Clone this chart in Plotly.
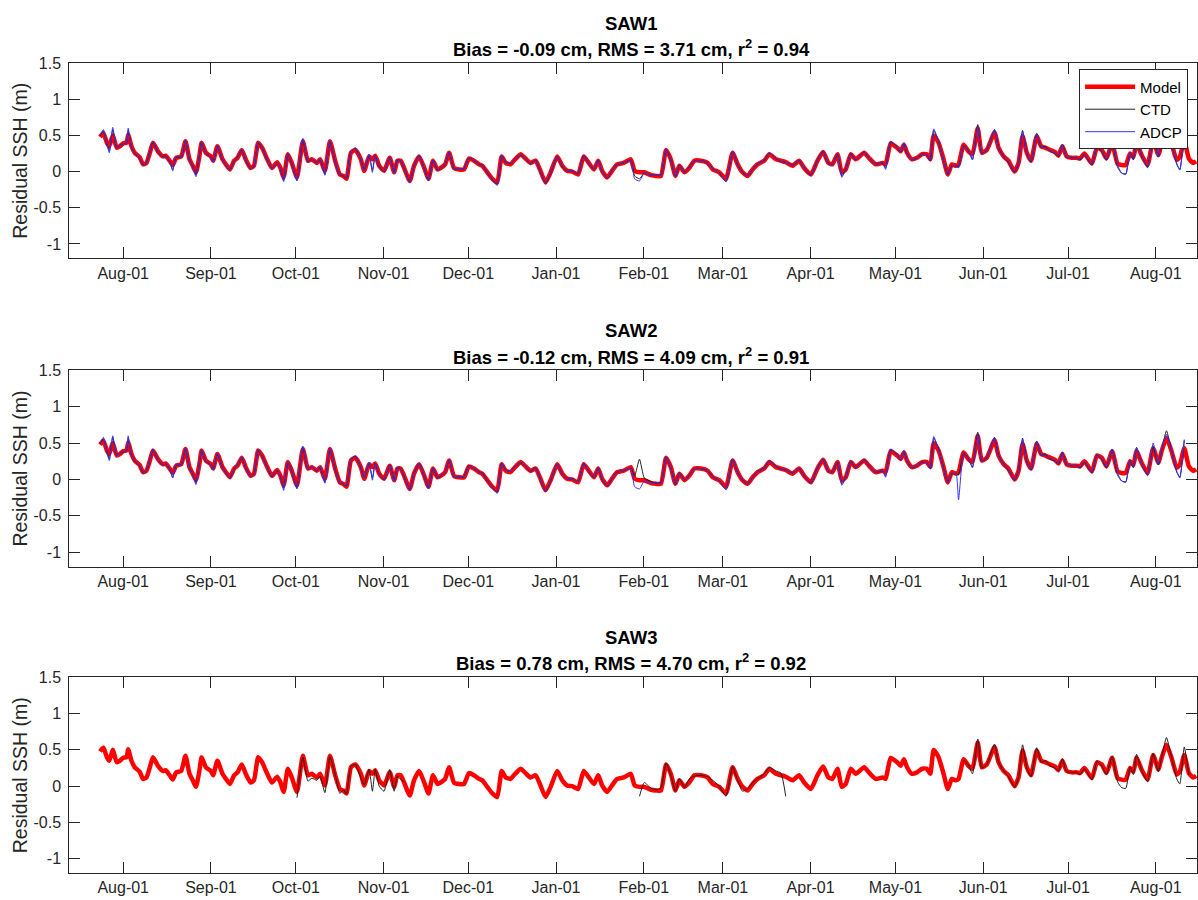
import plotly.graph_objects as go

# ---------------------------------------------------------------------------
# Residual sea-surface height at the SAW moorings (m)
# ---------------------------------------------------------------------------
dates = [
    # Jul 2017
    "2017-07-23 19:00", "2017-07-25 00:00", "2017-07-26 05:00", "2017-07-27 02:00", "2017-07-28 07:00",
    "2017-07-29 17:00", "2017-07-30 19:00",
    # Aug 2017
    "2017-08-01 00:00", "2017-08-02 05:00", "2017-08-02 18:00", "2017-08-03 22:00", "2017-08-05 02:00",
    "2017-08-06 19:00", "2017-08-08 00:00", "2017-08-09 05:00", "2017-08-10 10:00", "2017-08-11 12:00",
    "2017-08-13 07:00", "2017-08-15 00:00", "2017-08-16 00:00", "2017-08-17 10:00", "2017-08-18 12:00",
    "2017-08-19 17:00", "2017-08-21 12:00", "2017-08-23 00:00", "2017-08-24 10:00", "2017-08-25 14:00",
    "2017-08-26 17:00", "2017-08-27 22:00", "2017-08-28 17:00", "2017-08-30 05:00",
    # Sep 2017
    "2017-09-01 00:00", "2017-09-01 19:00", "2017-09-03 07:00", "2017-09-05 02:00", "2017-09-06 07:00",
    "2017-09-07 17:00", "2017-09-09 05:00", "2017-09-10 10:00", "2017-09-11 22:00", "2017-09-13 07:00",
    "2017-09-15 00:00", "2017-09-16 05:00", "2017-09-17 17:00", "2017-09-19 02:00", "2017-09-20 22:00",
    "2017-09-22 14:00", "2017-09-24 10:00", "2017-09-25 14:00", "2017-09-26 17:00", "2017-09-28 05:00",
    "2017-09-29 14:00",
    # Oct 2017
    "2017-10-01 10:00", "2017-10-03 12:00", "2017-10-05 07:00", "2017-10-06 17:00", "2017-10-08 10:00",
    "2017-10-09 14:00", "2017-10-11 07:00", "2017-10-13 02:00", "2017-10-14 22:00", "2017-10-16 14:00",
    "2017-10-17 19:00", "2017-10-18 22:00", "2017-10-20 12:00", "2017-10-22 02:00", "2017-10-24 00:00",
    "2017-10-25 05:00", "2017-10-26 22:00", "2017-10-28 02:00", "2017-10-29 02:00", "2017-10-30 12:00",
    # Nov 2017
    "2017-11-01 05:00", "2017-11-03 05:00", "2017-11-04 19:00", "2017-11-05 22:00", "2017-11-07 02:00",
    "2017-11-08 07:00", "2017-11-10 07:00", "2017-11-11 19:00", "2017-11-13 14:00", "2017-11-15 10:00",
    "2017-11-16 22:00", "2017-11-18 12:00", "2017-11-20 02:00", "2017-11-21 05:00", "2017-11-22 19:00",
    "2017-11-24 05:00", "2017-11-25 22:00", "2017-11-27 17:00", "2017-11-29 12:00",
    # Dec 2017
    "2017-12-01 05:00", "2017-12-03 00:00", "2017-12-04 19:00", "2017-12-05 22:00", "2017-12-07 17:00",
    "2017-12-09 12:00", "2017-12-11 05:00", "2017-12-12 19:00", "2017-12-14 05:00", "2017-12-15 22:00",
    "2017-12-17 02:00", "2017-12-19 12:00", "2017-12-21 05:00", "2017-12-23 00:00", "2017-12-24 19:00",
    "2017-12-26 07:00", "2017-12-28 07:00", "2017-12-30 02:00",
    # Jan 2018
    "2018-01-01 10:00", "2018-01-03 05:00", "2018-01-04 22:00", "2018-01-06 17:00", "2018-01-08 19:00",
    "2018-01-10 19:00", "2018-01-12 14:00", "2018-01-14 10:00", "2018-01-15 22:00", "2018-01-17 07:00",
    "2018-01-19 02:00", "2018-01-20 19:00", "2018-01-22 14:00", "2018-01-24 22:00", "2018-01-27 10:00",
    "2018-01-28 19:00", "2018-01-30 12:00",
    # Feb 2018
    "2018-02-01 05:00", "2018-02-03 14:00", "2018-02-05 10:00", "2018-02-07 02:00", "2018-02-08 22:00",
    "2018-02-10 14:00", "2018-02-12 05:00", "2018-02-13 14:00", "2018-02-15 10:00", "2018-02-17 02:00",
    "2018-02-18 22:00", "2018-02-21 05:00", "2018-02-23 14:00", "2018-02-25 10:00", "2018-02-27 17:00",
    # Mar 2018
    "2018-03-02 02:00", "2018-03-04 10:00", "2018-03-06 05:00", "2018-03-07 22:00", "2018-03-09 17:00",
    "2018-03-11 12:00", "2018-03-13 05:00", "2018-03-15 14:00", "2018-03-17 10:00", "2018-03-19 17:00",
    "2018-03-21 12:00", "2018-03-23 05:00", "2018-03-25 14:00", "2018-03-27 22:00", "2018-03-29 17:00",
    # Apr 2018
    "2018-04-01 02:00", "2018-04-03 10:00", "2018-04-05 10:00", "2018-04-07 07:00", "2018-04-08 17:00",
    "2018-04-10 12:00", "2018-04-12 00:00", "2018-04-13 10:00", "2018-04-15 05:00", "2018-04-16 22:00",
    "2018-04-19 22:00", "2018-04-21 14:00", "2018-04-24 00:00", "2018-04-26 10:00", "2018-04-27 12:00",
    "2018-04-29 07:00",
    # May 2018
    "2018-05-01 14:00", "2018-05-02 19:00", "2018-05-04 00:00", "2018-05-05 02:00", "2018-05-06 19:00",
    "2018-05-08 14:00", "2018-05-10 10:00", "2018-05-12 02:00", "2018-05-13 07:00", "2018-05-14 12:00",
    "2018-05-16 05:00", "2018-05-18 00:00", "2018-05-19 12:00", "2018-05-20 22:00", "2018-05-22 10:00",
    "2018-05-23 07:00", "2018-05-25 02:00", "2018-05-26 19:00", "2018-05-28 05:00", "2018-05-30 02:00",
    "2018-05-31 12:00",
    # Jun 2018
    "2018-06-02 07:00", "2018-06-05 00:00", "2018-06-06 10:00", "2018-06-08 05:00", "2018-06-09 22:00",
    "2018-06-12 02:00", "2018-06-13 12:00", "2018-06-14 22:00", "2018-06-16 10:00", "2018-06-17 22:00",
    "2018-06-19 22:00", "2018-06-21 12:00", "2018-06-22 22:00", "2018-06-24 14:00", "2018-06-26 10:00",
    "2018-06-27 14:00", "2018-06-29 00:00", "2018-06-30 12:00",
    # Jul 2018
    "2018-07-02 07:00", "2018-07-04 02:00", "2018-07-05 05:00", "2018-07-06 19:00", "2018-07-09 10:00",
    "2018-07-11 05:00", "2018-07-12 22:00", "2018-07-14 14:00", "2018-07-16 14:00", "2018-07-18 12:00",
    "2018-07-19 22:00", "2018-07-21 10:00", "2018-07-22 22:00", "2018-07-24 02:00", "2018-07-25 05:00",
    "2018-07-27 00:00", "2018-07-29 02:00", "2018-07-31 02:00",
    # Aug 2018
    "2018-08-01 22:00", "2018-08-03 02:00", "2018-08-04 19:00", "2018-08-06 14:00", "2018-08-08 10:00",
    "2018-08-09 12:00", "2018-08-11 02:00", "2018-08-12 17:00", "2018-08-14 05:00", "2018-08-15 07:00",
]

# Model residual SSH (m)
model = [
    0.48, 0.53, 0.40, 0.35, 0.50, 0.33, 0.35,
    0.39, 0.40, 0.51, 0.35, 0.26, 0.20, 0.10, 0.12, 0.26, 0.40, 0.28, 0.21, 0.22, 0.15, 0.09, 0.19,
    0.21, 0.42, 0.17, 0.08, -0.01, 0.21, 0.40, 0.26,
    0.21, 0.15, 0.35, 0.17, 0.10, 0.03, 0.15, 0.19, 0.30, 0.17, 0.05, 0.08, 0.40, 0.33, 0.17, 0.05,
    0.13, 0.05, -0.08, 0.24, 0.12,
    -0.08, 0.42, 0.15, 0.17, 0.12, 0.17, 0.01, 0.42, 0.15, -0.04, -0.06, -0.10, 0.26, 0.30, 0.17, 0.01,
    0.21, 0.17, 0.22, 0.08,
    0.01, 0.19, -0.01, 0.15, 0.15, 0.05, -0.13, 0.08, 0.21, 0.05, -0.10, 0.15, 0.03, 0.05, 0.10, 0.26,
    0.05, 0.03, 0.03,
    0.18, 0.15, 0.10, 0.08, -0.01, -0.10, -0.15, 0.21, 0.12, 0.10, 0.15, 0.24, 0.18, 0.12, 0.15, 0.03,
    -0.15, -0.01,
    0.21, 0.08, 0.01, 0.00, -0.04, 0.21, 0.12, 0.03, 0.15, 0.01, -0.08, 0.01, 0.10, 0.12, 0.17, 0.01,
    -0.01,
    -0.01, -0.05, -0.06, -0.06, 0.30, 0.17, -0.06, 0.08, -0.01, 0.05, 0.15, 0.15, 0.12, 0.03, -0.01,
    -0.10, 0.26, 0.10, -0.01, -0.06, 0.03, 0.10, 0.15, 0.24, 0.17, 0.15, 0.13, 0.08, 0.15, 0.05,
    -0.04, 0.15, 0.27, 0.12, 0.10, 0.24, -0.01, 0.03, 0.24, 0.17, 0.26, 0.19, 0.10, 0.12, 0.10, 0.39,
    0.33, 0.28, 0.37, 0.26, 0.17, 0.19, 0.24, 0.24, 0.17, 0.50, 0.40, 0.17, -0.04, 0.10, 0.08, 0.10,
    0.37, 0.28, 0.24, 0.60, 0.26,
    0.30, 0.54, 0.33, 0.21, 0.15, 0.00, 0.12, 0.49, 0.26, 0.15, 0.49, 0.35, 0.33, 0.30, 0.27, 0.22,
    0.35, 0.21,
    0.19, 0.19, 0.18, 0.25, 0.11, 0.33, 0.30, 0.18, 0.39, 0.11, 0.09, 0.09, 0.25, 0.20, 0.39, 0.23,
    0.09, 0.43,
    0.23, 0.39, 0.57, 0.39, 0.16, 0.20, 0.43, 0.18, 0.12, 0.14,
]

# ADCP-derived residual SSH at SAW1 (m)
adcp_saw1 = [
    0.50, 0.58, 0.38, 0.26, 0.61, 0.33, 0.36,
    0.38, 0.40, 0.60, 0.33, 0.25, 0.19, 0.09, 0.12, 0.27, 0.41, 0.27, 0.20, 0.22, 0.14, 0.01, 0.21,
    0.20, 0.43, 0.15, 0.07, -0.07, 0.22, 0.41, 0.25,
    0.20, 0.13, 0.36, 0.16, 0.09, 0.02, 0.14, 0.20, 0.31, 0.16, 0.04, 0.07, 0.41, 0.33, 0.16, 0.04,
    0.12, 0.04, -0.14, 0.24, 0.11,
    -0.13, 0.46, 0.14, 0.17, 0.12, 0.18, -0.05, 0.43, 0.14, -0.05, -0.06, -0.08, 0.27, 0.33, 0.16, 0.02,
    0.24, -0.01, 0.22, 0.07,
    0.00, 0.20, -0.03, 0.16, 0.15, 0.04, -0.15, 0.08, 0.22, 0.04, -0.13, 0.16, 0.02, 0.05, 0.10, 0.27,
    0.04, 0.03, 0.04,
    0.19, 0.15, 0.10, 0.09, -0.02, -0.12, -0.19, 0.22, 0.13, 0.11, 0.16, 0.23, 0.18, 0.11, 0.16, 0.02,
    -0.16, -0.02,
    0.21, 0.07, 0.01, 0.01, -0.03, 0.22, 0.11, 0.03, 0.16, 0.00, -0.09, 0.01, 0.10, 0.12, 0.16, -0.10,
    -0.13,
    -0.02, -0.05, -0.05, -0.05, 0.31, 0.16, -0.07, 0.09, -0.01, 0.06, 0.15, 0.15, 0.12, 0.04, -0.02,
    -0.14, 0.28, 0.09, -0.01, -0.06, 0.03, 0.11, 0.15, 0.26, 0.18, 0.14, 0.13, 0.09, 0.15, 0.05,
    -0.05, 0.16, 0.28, 0.11, 0.10, 0.24, -0.08, 0.03, 0.25, 0.16, 0.27, 0.19, 0.10, 0.12, 0.03, 0.42,
    0.34, 0.27, 0.40, 0.25, 0.16, 0.19, 0.24, 0.23, 0.15, 0.59, 0.42, 0.15, -0.04, 0.08, 0.08, 0.05,
    0.36, 0.29, 0.16, 0.62, 0.25,
    0.30, 0.58, 0.32, 0.20, 0.14, -0.01, 0.12, 0.55, 0.25, 0.14, 0.52, 0.34, 0.33, 0.29, 0.26, 0.22,
    0.37, 0.20,
    0.19, 0.19, 0.17, 0.24, 0.10, 0.34, 0.29, 0.17, 0.42, 0.09, -0.02, -0.04, 0.26, 0.18, 0.44, 0.22,
    0.05, 0.50,
    0.21, 0.42, 0.62, 0.40, 0.12, 0.02, 0.52, None, None, None,
]

# CTD-derived residual SSH at SAW1 (m)
ctd_saw1 = [
    0.49, 0.56, 0.39, 0.28, 0.58, 0.33, 0.36,
    0.38, 0.40, 0.57, 0.34, 0.25, 0.19, 0.09, 0.12, 0.27, 0.41, 0.27, 0.20, 0.22, 0.14, 0.03, 0.20,
    0.20, 0.42, 0.16, 0.07, -0.05, 0.22, 0.40, 0.25,
    0.20, 0.14, 0.35, 0.16, 0.09, 0.02, 0.14, 0.20, 0.30, 0.16, 0.04, 0.07, 0.40, 0.33, 0.16, 0.04,
    0.12, 0.04, -0.12, 0.24, 0.11,
    -0.12, 0.44, 0.14, 0.17, 0.12, 0.17, -0.04, 0.42, 0.14, -0.05, -0.06, -0.09, 0.27, 0.32, 0.16, 0.02,
    0.23, 0.02, 0.22, 0.07,
    0.00, 0.20, -0.02, 0.16, 0.15, 0.04, -0.14, 0.08, 0.22, 0.04, -0.12, 0.16, 0.02, 0.05, 0.10, 0.27,
    0.04, 0.03, 0.04,
    0.19, 0.15, 0.10, 0.09, -0.02, -0.11, -0.18, 0.22, 0.13, 0.11, 0.16, 0.23, 0.18, 0.11, 0.16, 0.02,
    -0.16, -0.02,
    0.21, 0.07, 0.01, 0.01, -0.03, 0.22, 0.11, 0.03, 0.16, 0.00, -0.09, 0.01, 0.10, 0.12, 0.16, -0.06,
    -0.10,
    -0.02, -0.05, -0.05, -0.05, 0.31, 0.16, -0.07, 0.09, -0.01, 0.06, 0.15, 0.15, 0.12, 0.04, -0.02,
    -0.14, 0.28, 0.09, -0.01, -0.06, 0.03, 0.11, 0.15, 0.26, 0.18, 0.14, 0.13, 0.09, 0.15, 0.05,
    -0.05, 0.16, 0.28, 0.11, 0.10, 0.24, -0.06, 0.03, 0.25, 0.16, 0.27, 0.19, 0.10, 0.12, 0.05, 0.41,
    0.34, 0.27, 0.39, 0.25, 0.16, 0.19, 0.24, 0.23, 0.15, 0.57, 0.42, 0.15, -0.04, 0.08, 0.08, 0.06,
    0.36, 0.29, 0.17, 0.65, 0.25,
    0.30, 0.58, 0.33, 0.21, 0.13, -0.01, 0.12, 0.57, 0.25, 0.13, 0.53, 0.33, 0.35, 0.28, 0.25, 0.21,
    0.38, 0.20,
    0.19, 0.19, 0.16, 0.24, 0.09, 0.34, 0.28, 0.16, 0.41, 0.06, -0.02, -0.03, 0.26, 0.16, 0.44, 0.22,
    0.06, 0.45,
    0.20, 0.40, 0.67, 0.40, 0.10, 0.03, 0.54, None, None, None,
]

# ADCP-derived residual SSH at SAW2 (m)
adcp_saw2 = [
    0.50, 0.58, 0.38, 0.26, 0.60, 0.33, 0.36,
    0.38, 0.40, 0.60, 0.33, 0.25, 0.19, 0.09, 0.12, 0.27, 0.41, 0.27, 0.20, 0.22, 0.14, 0.02, 0.21,
    0.20, 0.43, 0.15, 0.07, -0.07, 0.22, 0.41, 0.25,
    0.20, 0.13, 0.36, 0.16, 0.09, 0.02, 0.14, 0.20, 0.31, 0.16, 0.04, 0.07, 0.41, 0.33, 0.16, 0.04,
    0.12, 0.04, -0.15, 0.24, 0.11,
    -0.13, 0.46, 0.14, 0.17, 0.12, 0.18, -0.05, 0.43, 0.14, -0.05, -0.06, -0.08, 0.27, 0.33, 0.16, 0.02,
    0.24, -0.01, 0.22, 0.07,
    0.00, 0.20, -0.03, 0.16, 0.15, 0.04, -0.15, 0.08, 0.22, 0.04, -0.13, 0.16, 0.02, 0.05, 0.10, 0.27,
    0.04, 0.03, 0.04,
    0.19, 0.15, 0.10, 0.09, -0.02, -0.12, -0.19, 0.22, 0.13, 0.11, 0.16, 0.23, 0.18, 0.11, 0.16, 0.02,
    -0.16, -0.02,
    0.21, 0.07, 0.01, 0.01, -0.03, 0.22, 0.11, 0.03, 0.16, 0.00, -0.09, 0.01, 0.10, 0.12, 0.16, -0.10,
    -0.13,
    -0.02, -0.05, -0.05, -0.05, 0.31, 0.16, -0.07, 0.09, -0.01, 0.06, 0.15, 0.15, 0.12, 0.04, -0.02,
    -0.14, 0.28, 0.09, -0.01, -0.06, 0.03, 0.11, 0.15, 0.26, 0.18, 0.14, 0.13, 0.09, 0.15, 0.05,
    -0.05, 0.16, 0.28, 0.11, 0.10, 0.24, -0.08, 0.03, 0.25, 0.16, 0.27, 0.19, 0.10, 0.12, 0.03, 0.42,
    0.34, 0.27, 0.40, 0.25, 0.16, 0.19, 0.24, 0.23, 0.15, 0.59, 0.42, 0.15, -0.04, 0.08, 0.08, -0.28,
    0.36, 0.29, 0.16, 0.62, 0.25,
    0.30, 0.58, 0.32, 0.20, 0.14, -0.01, 0.12, 0.55, 0.25, 0.14, 0.52, 0.34, 0.33, 0.29, 0.26, 0.22,
    0.37, 0.20,
    0.19, 0.19, 0.17, 0.24, 0.10, 0.34, 0.29, 0.17, 0.42, 0.09, -0.02, -0.04, 0.26, 0.18, 0.44, 0.22,
    0.05, 0.50,
    0.21, 0.42, 0.62, 0.40, 0.12, 0.02, 0.55, None, None, None,
]

# CTD-derived residual SSH at SAW2 (m)
ctd_saw2 = [
    0.49, 0.56, 0.39, 0.28, 0.58, 0.33, 0.36,
    0.38, 0.40, 0.57, 0.34, 0.25, 0.19, 0.09, 0.12, 0.27, 0.41, 0.27, 0.20, 0.22, 0.14, 0.03, 0.20,
    0.20, 0.42, 0.16, 0.07, -0.05, 0.22, 0.40, 0.25,
    0.20, 0.14, 0.35, 0.16, 0.09, 0.02, 0.14, 0.20, 0.30, 0.16, 0.04, 0.07, 0.40, 0.33, 0.16, 0.04,
    0.12, 0.04, -0.12, 0.24, 0.11,
    -0.12, 0.44, 0.14, 0.17, 0.12, 0.17, -0.04, 0.42, 0.14, -0.05, -0.06, -0.09, 0.27, 0.32, 0.16, 0.02,
    0.23, 0.02, 0.22, 0.07,
    0.00, 0.20, -0.02, 0.16, 0.15, 0.04, -0.14, 0.08, 0.22, 0.04, -0.12, 0.16, 0.02, 0.05, 0.10, 0.27,
    0.04, 0.03, 0.04,
    0.19, 0.15, 0.10, 0.09, -0.02, -0.11, -0.18, 0.22, 0.13, 0.11, 0.16, 0.23, 0.18, 0.11, 0.16, 0.02,
    -0.16, -0.02,
    0.21, 0.07, 0.01, 0.01, -0.03, 0.22, 0.11, 0.03, 0.16, 0.00, -0.09, 0.01, 0.10, 0.12, 0.16, 0.05,
    0.28,
    0.02, -0.03, -0.05, -0.04, 0.31, 0.16, -0.07, 0.09, -0.01, 0.06, 0.15, 0.15, 0.12, 0.04, -0.02,
    -0.14, 0.28, 0.09, -0.01, -0.06, 0.03, 0.11, 0.15, 0.26, 0.18, 0.14, 0.13, 0.09, 0.15, 0.05,
    -0.05, 0.16, 0.28, 0.11, 0.10, 0.24, -0.06, 0.03, 0.25, 0.16, 0.27, 0.19, 0.10, 0.12, 0.05, 0.41,
    0.34, 0.27, 0.39, 0.25, 0.16, 0.19, 0.24, 0.23, 0.15, 0.57, 0.42, 0.15, -0.04, 0.08, 0.08, 0.06,
    0.36, 0.29, 0.17, 0.65, 0.25,
    0.30, 0.58, 0.33, 0.21, 0.13, -0.01, 0.12, 0.57, 0.25, 0.13, 0.53, 0.33, 0.35, 0.28, 0.25, 0.21,
    0.38, 0.20,
    0.19, 0.19, 0.16, 0.24, 0.09, 0.34, 0.28, 0.16, 0.41, 0.06, -0.02, -0.03, 0.26, 0.16, 0.44, 0.22,
    0.06, 0.45,
    0.20, 0.40, 0.67, 0.40, 0.10, 0.03, 0.54, None, None, None,
]

# CTD-derived residual SSH at SAW3 (m); gaps where the record is missing
ctd_saw3 = [
    None, None, None, None, None, None, None,
    None, None, None, None, None, None, None, None, None, None, None, None, None, None, None, None,
    None, None, None, None, None, None, None, None,
    None, None, None, None, None, None, None, None, None, None, None, None, None, None, None, None,
    None, None, None, None, None,
    -0.16, 0.40, 0.07, 0.11, 0.08, 0.14, -0.09, 0.41, 0.16, -0.10, -0.05, -0.11, 0.27, 0.30, 0.11, 0.02,
    0.23, -0.07, 0.23, 0.00,
    -0.07, 0.23, -0.07, 0.14, 0.09, 0.06, None, None, None, None, None, None, None, None, None, None,
    None, None, None,
    None, None, None, None, None, None, None, None, None, None, None, None, None, None, None, None,
    None, None,
    None, None, None, None, None, None, None, None, None, None, None, None, None, None, None, None,
    -0.14,
    0.05, -0.03, -0.05, -0.02, 0.32, 0.15, -0.07, 0.10, -0.02, 0.10, 0.14, 0.15, 0.13, 0.08, 0.00,
    -0.14, 0.27, 0.08, -0.07, -0.03, 0.05, 0.10, 0.17, 0.26, 0.21, 0.18, -0.14, None, None, None,
    None, None, None, None, None, None, None, None, None, None, None, None, None, None, None, None,
    None, None, None, None, None, None, None, None, None, None, None, None, None, None, None, None,
    0.36, 0.29, 0.17, 0.65, 0.25,
    0.30, 0.58, 0.33, 0.21, 0.13, -0.01, 0.12, 0.57, 0.25, 0.13, 0.53, 0.33, 0.35, 0.28, 0.25, 0.21,
    0.38, 0.20,
    0.19, 0.19, 0.16, 0.24, 0.09, 0.34, 0.28, 0.16, 0.41, 0.06, -0.02, -0.03, 0.26, 0.16, 0.44, 0.22,
    0.06, 0.45,
    0.20, 0.40, 0.67, 0.40, 0.10, 0.03, 0.54, 0.16, None, None,
]

stations = ["SAW1", "SAW2", "SAW3"]
skill_lines = [
    "Bias = -0.09 cm, RMS = 3.71 cm, r<sup>2</sup> = 0.94",
    "Bias = -0.12 cm, RMS = 4.09 cm, r<sup>2</sup> = 0.91",
    "Bias = 0.78 cm, RMS = 4.70 cm, r<sup>2</sup> = 0.92",
]
ctd_series = [ctd_saw1, ctd_saw2, ctd_saw3]
adcp_series = [adcp_saw1, adcp_saw2, None]

y_ticks = [-1, -0.5, 0, 0.5, 1, 1.5]
y_tick_text = ["-1", "-0.5", "0", "0.5", "1", "1.5"]

for s in [model, adcp_saw1, ctd_saw1, adcp_saw2, ctd_saw2, ctd_saw3]:
    assert len(s) == len(dates), len(s)

# ---------------------------------------------------------------------------
# Layout geometry (pixels in a 1198 x 900 canvas)
# ---------------------------------------------------------------------------
W, H = 1198, 900
AX_LEFT = 69.3
PANELS = [(55.5, 252.7), (365.7, 563.7), (675.3, 873.0)]   # top, bottom
FONT = "Liberation Sans, Arial, Helvetica, sans-serif"
INK = "#262626"
SMOOTH = 0.5

fig = go.Figure()

for i in range(3):
    xa = "x" if i == 0 else f"x{i + 1}"
    ya = "y" if i == 0 else f"y{i + 1}"
    fig.add_trace(go.Scatter(
        x=dates, y=model, mode="lines", name="Model",
        line=dict(color="#ff0000", width=4.5, shape="spline", smoothing=SMOOTH),
        xaxis=xa, yaxis=ya,
        showlegend=(i == 0), legendgroup="model", connectgaps=False,
    ))
    fig.add_trace(go.Scatter(
        x=dates, y=ctd_series[i], mode="lines", name="CTD",
        line=dict(color="#222222", width=1, shape="spline", smoothing=SMOOTH),
        xaxis=xa, yaxis=ya,
        showlegend=(i == 0), legendgroup="ctd", connectgaps=False,
    ))
    if adcp_series[i] is not None:
        fig.add_trace(go.Scatter(
            x=dates, y=adcp_series[i], mode="lines", name="ADCP",
            line=dict(color="#3333ff", width=1, shape="spline", smoothing=SMOOTH),
            xaxis=xa, yaxis=ya,
            showlegend=(i == 0), legendgroup="adcp", connectgaps=False,
        ))

layout = dict(
    width=W, height=H,
    margin=dict(l=0, r=0, t=0, b=0),
    paper_bgcolor="white", plot_bgcolor="white",
    showlegend=True,
    legend=dict(
        x=1080 / W, y=1 - 62 / H, xanchor="left", yanchor="top",
        bgcolor="white", bordercolor=INK, borderwidth=1,
        font=dict(family=FONT, size=15, color="#000000"),
        itemwidth=50, tracegroupgap=0,
    ),
    annotations=[],
)

for i in range(3):
    top, bottom = PANELS[i]
    sfx = "" if i == 0 else str(i + 1)
    layout["xaxis" + sfx] = dict(
        domain=[AX_LEFT / W, 1.0],
        anchor="y" + sfx,
        type="date",
        range=["2017-07-12 22:00", "2018-08-15 14:00"],
        tick0="2017-08-01", dtick="M1", tickformat="%b-%d",
        ticks="inside", ticklen=11, tickwidth=1, tickcolor=INK,
        showline=True, linecolor=INK, linewidth=1, mirror="ticks",
        showgrid=False, zeroline=False,
        tickfont=dict(family=FONT, size=16, color=INK),
        ticklabelstandoff=0,
    )
    layout["yaxis" + sfx] = dict(
        domain=[1 - bottom / H, 1 - top / H],
        anchor="x" + sfx,
        range=[-1.2, 1.5],
        tickvals=y_ticks, ticktext=y_tick_text,
        ticks="inside", ticklen=11, tickwidth=1, tickcolor=INK,
        showline=True, linecolor=INK, linewidth=1, mirror="ticks",
        showgrid=False, zeroline=False,
        tickfont=dict(family=FONT, size=16, color=INK),
        ticklabelstandoff=4,
    )
    # two-line bold title
    layout["annotations"].append(dict(
        x=632 / W, y=1 - (top - 40) / H, xref="paper", yref="paper",
        text=f"<b>{stations[i]}</b>", showarrow=False,
        xanchor="center", yanchor="middle",
        font=dict(family=FONT, size=18.5, color="#000000"),
    ))
    layout["annotations"].append(dict(
        x=632 / W, y=1 - (top - 15) / H, xref="paper", yref="paper",
        text=f"<b>{skill_lines[i]}</b>", showarrow=False,
        xanchor="center", yanchor="middle",
        font=dict(family=FONT, size=18.5, color="#000000"),
    ))
    # y-axis label
    layout["annotations"].append(dict(
        x=20 / W, y=1 - ((top + bottom) / 2) / H, xref="paper", yref="paper",
        text="Residual SSH (m)", showarrow=False, textangle=-90,
        xanchor="center", yanchor="middle",
        font=dict(family=FONT, size=19.5, color=INK),
    ))

fig.update_layout(**layout)
fig.write_html("out.html")
